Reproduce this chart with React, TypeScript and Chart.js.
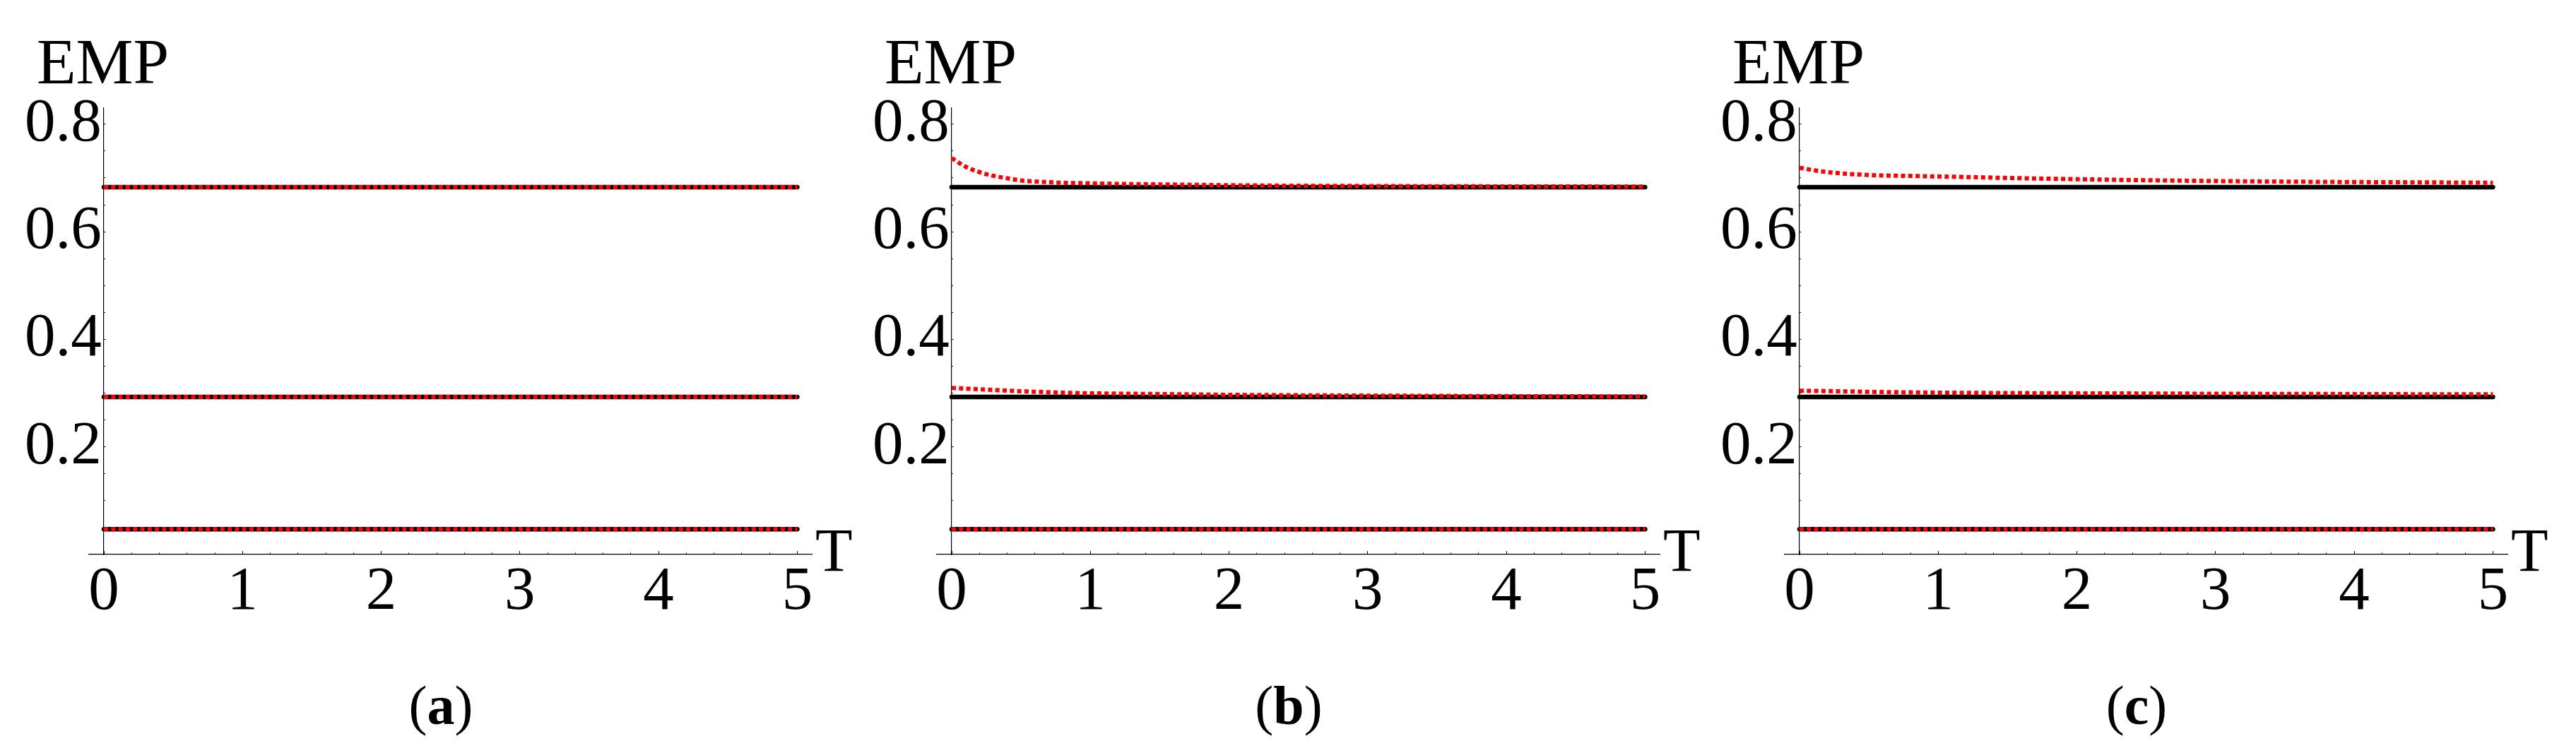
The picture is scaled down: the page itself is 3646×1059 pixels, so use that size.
import React, { useEffect, useRef } from 'react';
import { Chart, registerables } from 'chart.js';

Chart.register(...registerables);

// ---------- data ----------
const panelTags = ['a', 'b', 'c'];
const yAxisTitle = 'EMP';
const xAxisTitle = 'T';

const tEnds = [0, 5];
const exactHigh = [0.683, 0.683];
const exactMid = [0.293, 0.293];
const exactLow = [0.047, 0.047];

const tSamples = [0, 0.1, 0.2, 0.3, 0.4, 0.5, 0.6, 0.75, 1, 1.25, 1.5, 2, 2.5, 3, 3.5, 4, 4.5, 5];

// panel (a): estimate coincides with exact values
const aHigh = [0.683, 0.683];
const aMid = [0.293, 0.293];
const aLow = [0.047, 0.047];

// panel (b)
const bHigh = [0.737, 0.721, 0.711, 0.704, 0.6995, 0.6955, 0.6935, 0.6915, 0.690, 0.6888, 0.688, 0.6865, 0.6855, 0.685, 0.6846, 0.6843, 0.6841, 0.684];
const bMid = [0.3095, 0.3085, 0.3072, 0.306, 0.3045, 0.3035, 0.3025, 0.3012, 0.2996, 0.2989, 0.2982, 0.2969, 0.296, 0.2953, 0.2948, 0.2944, 0.2941, 0.2939];
const bLow = [0.047, 0.047];

// panel (c)
const cHigh = [0.719, 0.7145, 0.711, 0.7085, 0.7068, 0.7055, 0.7047, 0.704, 0.7028, 0.7015, 0.700, 0.6978, 0.6958, 0.6943, 0.6932, 0.6924, 0.6918, 0.6912];
const cMid = [0.3045, 0.3041, 0.3037, 0.3033, 0.3029, 0.3024, 0.302, 0.3015, 0.3009, 0.3004, 0.3001, 0.2996, 0.2992, 0.2988, 0.2985, 0.2982, 0.2979, 0.2977];
const cLow = [0.047, 0.047];

const xTickValues = [0, 1, 2, 3, 4, 5];
const xTickLabels = ['0', '1', '2', '3', '4', '5'];
const xMinorTicks = [0.2, 0.4, 0.6, 0.8, 1.2, 1.4, 1.6, 1.8, 2.2, 2.4, 2.6, 2.8, 3.2, 3.4, 3.6, 3.8, 4.2, 4.4, 4.6, 4.8];
const yTickValues = [0.2, 0.4, 0.6, 0.8];
const yTickLabels = ['0.2', '0.4', '0.6', '0.8'];
const yMinorTicks = [0.05, 0.1, 0.15, 0.25, 0.3, 0.35, 0.45, 0.5, 0.55, 0.65, 0.7, 0.75];

// ---------- styling ----------
const FONT = "'Liberation Serif', 'Times New Roman', serif";
const PANEL_W = 1200;
const H = 1059;
const X_MIN = -0.107;
const X_MAX = 5.105;
const Y_MIN = 0;
const Y_MAX = 0.83;

type Est = { high: [number[], number[]]; mid: [number[], number[]]; low: [number[], number[]] };
const estimates: Est[] = [
  { high: [tEnds, aHigh], mid: [tEnds, aMid], low: [tEnds, aLow] },
  { high: [tSamples, bHigh], mid: [tSamples, bMid], low: [tEnds, bLow] },
  { high: [tSamples, cHigh], mid: [tSamples, cMid], low: [tEnds, cLow] },
];

const pts = (ts: number[], vs: number[]) => ts.map((t, i) => ({ x: t, y: vs[i] }));

function blackSet(vs: number[]) {
  return {
    data: pts(tEnds, vs),
    borderColor: '#000000',
    borderWidth: 6.5,
    borderCapStyle: 'round' as const,
    pointRadius: 0,
    order: 1,
  };
}
function redSet(ts: number[], vs: number[]) {
  return {
    data: pts(ts, vs),
    borderColor: '#ff0000',
    borderWidth: 6,
    borderDash: [6, 4.3],
    borderCapStyle: 'butt' as const,
    cubicInterpolationMode: 'monotone' as const,
    pointRadius: 0,
    order: 0,
  };
}

const setTicks = (vals: number[]) => (s: any) => {
  s.ticks = vals.map((v) => ({ value: v }));
};

function Panel({ idx }: { idx: number }) {
  const ref = useRef<HTMLCanvasElement | null>(null);
  useEffect(() => {
    if (!ref.current) return;
    const e = estimates[idx];
    const tickFont = { family: FONT, size: 87, lineHeight: 1 };
    const chart = new Chart(ref.current, {
      type: 'line',
      data: {
        datasets: [
          blackSet(exactHigh),
          blackSet(exactMid),
          blackSet(exactLow),
          redSet(e.high[0], e.high[1]),
          redSet(e.mid[0], e.mid[1]),
          redSet(e.low[0], e.low[1]),
        ] as any,
      },
      options: {
        animation: false,
        responsive: false,
        maintainAspectRatio: false,
        events: [],
        layout: { padding: { left: 126, right: 51, top: 153, bottom: 274 } },
        plugins: { legend: { display: false }, tooltip: { enabled: false }, title: { display: false } },
        scales: {
          x: {
            type: 'linear', axis: 'x', position: { y: 0 }, min: X_MIN, max: X_MAX,
            afterBuildTicks: setTicks(xTickValues),
            ticks: { display: false },
            grid: { drawOnChartArea: false, drawTicks: true, tickLength: -5, color: '#000', lineWidth: 1 },
            border: { display: true, color: '#000', width: 1.2 },
          },
          xMinor: {
            type: 'linear', axis: 'x', position: { y: 0 }, min: X_MIN, max: X_MAX,
            afterBuildTicks: setTicks(xMinorTicks),
            ticks: { display: false },
            grid: { drawOnChartArea: false, drawTicks: true, tickLength: -2.5, color: '#000', lineWidth: 1 },
            border: { display: false },
          },
          xLab: {
            type: 'linear', axis: 'x', position: { y: 0 }, min: X_MIN, max: X_MAX,
            afterBuildTicks: setTicks(xTickValues),
            ticks: {
              display: true, color: '#000', font: tickFont, padding: 10.5,
              autoSkip: false, maxRotation: 0, minRotation: 0,
              callback: (_v: any, i: number) => xTickLabels[i],
            },
            grid: { display: false, drawTicks: false },
            border: { display: false },
          },
          y: {
            type: 'linear', axis: 'y', position: { x: 0 }, min: Y_MIN, max: Y_MAX,
            afterBuildTicks: setTicks(yTickValues),
            ticks: { display: false },
            grid: { drawOnChartArea: false, drawTicks: true, tickLength: -3.5, color: '#000', lineWidth: 1 },
            border: { display: true, color: '#000', width: 1.2 },
          },
          yMinor: {
            type: 'linear', axis: 'y', position: { x: 0 }, min: Y_MIN, max: Y_MAX,
            afterBuildTicks: setTicks(yMinorTicks),
            ticks: { display: false },
            grid: { drawOnChartArea: false, drawTicks: true, tickLength: -2, color: '#000', lineWidth: 1 },
            border: { display: false },
          },
          yLab: {
            type: 'linear', axis: 'y', position: { x: -0.016 }, min: Y_MIN, max: Y_MAX,
            afterBuildTicks: setTicks(yTickValues),
            ticks: {
              display: true, color: '#000', font: tickFont, padding: 0,
              autoSkip: false, maxRotation: 0, minRotation: 0,
              callback: (_v: any, i: number) => yTickLabels[i],
            },
            grid: { display: false, drawTicks: false },
            border: { display: false },
          },
        } as any,
      },
    });
    return () => chart.destroy();
  }, [idx]);
  return (
    <canvas
      ref={ref}
      width={PANEL_W}
      height={H}
      style={{ position: 'absolute', left: idx * PANEL_W, top: 0, width: PANEL_W, height: H }}
    />
  );
}

const textBase: React.CSSProperties = {
  position: 'absolute',
  fontFamily: FONT,
  color: '#000',
  whiteSpace: 'nowrap',
  margin: 0,
  padding: 0,
};

export default function App() {
  return (
    <div
      style={{
        position: 'fixed', left: 0, top: 0, width: 3646, height: H,
        background: '#fff', overflow: 'hidden',
      }}
    >
      {panelTags.map((tag, i) => (
        <React.Fragment key={tag}>
          <Panel idx={i} />
          <div style={{ ...textBase, left: 52 + i * PANEL_W, top: 42, fontSize: 91, lineHeight: '91px' }}>
            {yAxisTitle}
          </div>
          <div style={{ ...textBase, left: 1154 + i * PANEL_W, top: 736, fontSize: 86, lineHeight: '86px' }}>
            {xAxisTitle}
          </div>
          <div
            style={{
              ...textBase, left: 524 + i * PANEL_W, width: 200, textAlign: 'center',
              top: 960, fontSize: 78, lineHeight: '78px',
            }}
          >
            (<b>{tag}</b>)
          </div>
        </React.Fragment>
      ))}
    </div>
  );
}
